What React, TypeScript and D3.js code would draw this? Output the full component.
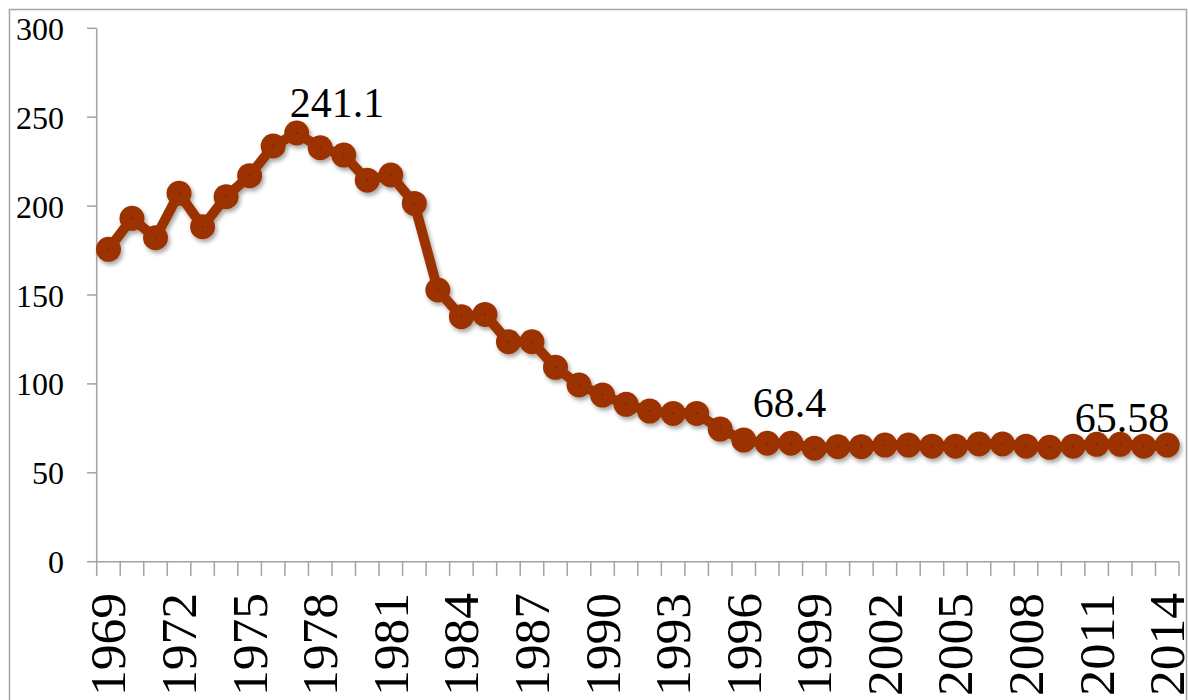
import { scaleBand, scaleLinear, line } from 'd3';

const WIDTH = 1188;
const HEIGHT = 700;
const RUST = '#9b3300';
const AXIS = '#a3a3a3';
const FONT = '"Liberation Serif", "Times New Roman", serif';

const years = [
  1969, 1970, 1971, 1972, 1973, 1974, 1975, 1976, 1977, 1978, 1979, 1980,
  1981, 1982, 1983, 1984, 1985, 1986, 1987, 1988, 1989, 1990, 1991, 1992,
  1993, 1994, 1995, 1996, 1997, 1998, 1999, 2000, 2001, 2002, 2003, 2004,
  2005, 2006, 2007, 2008, 2009, 2010, 2011, 2012, 2013, 2014,
];

const values = [
  175.7, 193.1, 182.2, 207.2, 188.4, 205.3, 217.1, 233.8, 241.1, 232.8, 228.7, 214.6,
  217.5, 201.5, 152.8, 137.8, 139.1, 123.7, 123.7, 109.3, 99.4, 93.7, 88.5, 84.7,
  83.4, 83.4, 74.6, 68.4, 66.6, 66.6, 63.8, 64.7, 64.7, 65.6, 65.6, 65.0,
  65.0, 66.2, 66.2, 65.0, 64.3, 65.0, 66.0, 66.0, 65.0, 65.58,
];

const yTicks = [0, 50, 100, 150, 200, 250, 300];
const labelledYears = [1969, 1972, 1975, 1978, 1981, 1984, 1987, 1990, 1993, 1996, 1999, 2002, 2005, 2008, 2011, 2014];

// data labels: year, text, side of the point
const callouts = [
  { year: 1977, text: '241.1', anchor: 'start', dx: -7, dy: -16 },
  { year: 1996, text: '68.4', anchor: 'start', dx: 9, dy: -23 },
  { year: 2014, text: '65.58', anchor: 'end', dx: 2, dy: -13 },
];

type Pt = { year: number; value: number };

export default function App() {
  const data: Pt[] = years.map((year, i) => ({ year, value: values[i] }));

  const x = scaleBand<number>().domain(years).range([96.7, 1179]);
  const y = scaleLinear().domain([0, 300]).range([561.7, 28.3]);
  const cx = (yr: number) => (x(yr) ?? 0) + x.bandwidth() / 2;

  const lineGen = line<Pt>()
    .x(d => cx(d.year))
    .y(d => y(d.value));

  const x0 = x.range()[0];
  const x1 = x.range()[1];
  const yBase = y(0);

  return (
    <svg
      width={WIDTH}
      height={HEIGHT}
      style={{ position: 'absolute', left: 0, top: 0, background: '#fff' }}
      fontFamily={FONT}
    >
      <defs>
        <filter id="shadow" x="-10%" y="-10%" width="120%" height="130%">
          <feDropShadow dx={2} dy={3} stdDeviation={2} floodColor="#000" floodOpacity={0.35} />
        </filter>
      </defs>

      {/* outer frame */}
      <rect x={9.5} y={9.5} width={1177} height={760} fill="none" stroke={AXIS} strokeWidth={1.5} />

      {/* y axis */}
      <line x1={x0} y1={y(300)} x2={x0} y2={yBase} stroke={AXIS} strokeWidth={1.5} />
      {yTicks.map(t => (
        <g key={t}>
          <line x1={87} y1={y(t)} x2={x0} y2={y(t)} stroke={AXIS} strokeWidth={1.5} />
          <text x={64} y={y(t)} dy="0.36em" textAnchor="end" fontSize={32} fill="#000">
            {t}
          </text>
        </g>
      ))}

      {/* x axis */}
      <line x1={x0} y1={yBase} x2={x1} y2={yBase} stroke={AXIS} strokeWidth={1.5} />
      {[...years, null].map((yr, i) => {
        const px = yr === null ? x1 : x(yr) ?? 0;
        return <line key={i} x1={px} y1={yBase} x2={px} y2={576} stroke={AXIS} strokeWidth={1.5} />;
      })}
      {labelledYears.map(yr => (
        <text
          key={yr}
          transform={`translate(${cx(yr)},593) rotate(-90)`}
          dy="0.34em"
          textAnchor="end"
          fontSize={50}
          textLength={103}
          lengthAdjust="spacingAndGlyphs"
          fill="#000"
        >
          {yr}
        </text>
      ))}

      {/* series */}
      <g filter="url(#shadow)">
        <path d={lineGen(data) ?? ''} fill="none" stroke={RUST} strokeWidth={10} strokeLinejoin="round" />
        {data.map(d => (
          <circle key={d.year} cx={cx(d.year)} cy={y(d.value)} r={12.5} fill={RUST} />
        ))}
      </g>
      {data.map(d => (
        <circle key={d.year} cx={cx(d.year)} cy={y(d.value)} r={0.8} fill="#6a1e00" />
      ))}

      {/* data labels */}
      {callouts.map(c => {
        const v = values[years.indexOf(c.year)];
        return (
          <text
            key={c.year}
            x={cx(c.year) + c.dx}
            y={y(v) + c.dy}
            textAnchor={c.anchor as 'start' | 'end'}
            fontSize={42}
            fill="#000"
          >
            {c.text}
          </text>
        );
      })}
    </svg>
  );
}
